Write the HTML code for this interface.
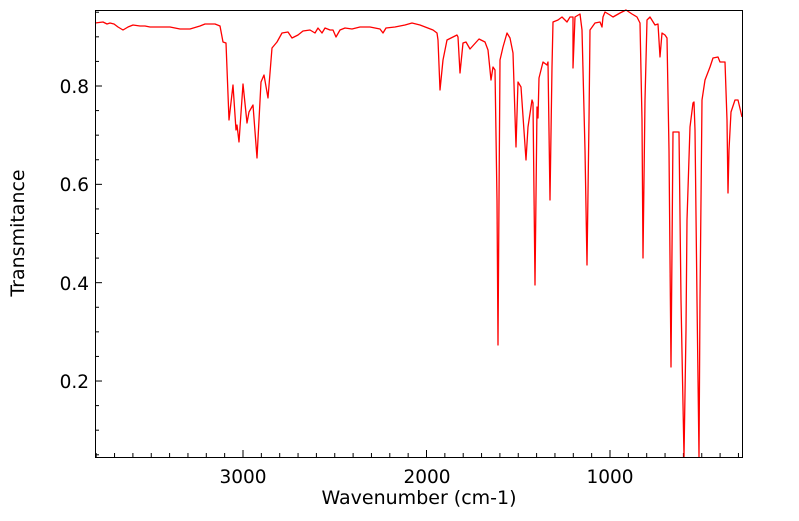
<!DOCTYPE html>
<html><head><meta charset="utf-8"><style>
body{margin:0;background:#fff;}
svg text{font-family:"DejaVu Sans","Liberation Sans",sans-serif;fill:#000;}
</style></head><body>
<svg width="799" height="516" viewBox="0 0 799 516" xmlns="http://www.w3.org/2000/svg">
<rect width="799" height="516" fill="#fff"/>
<g id="ticks" stroke="#000" stroke-width="1"></g>
<path fill="none" stroke="#ff0000" stroke-width="1.3" stroke-linejoin="round" d="
M95,23 L103,22 L107,24 L110,23 L114,24 L118,27 L123,30 L128,27 L133,25 L140,26 L145,26 L150,27 L160,27 L170,27 L180,29 L190,29 L200,26 L205,24 L215,24 L220,26 L223,42 L226,43 L229,120 L233,85 L236,130 L237,125 L239,142 L243,84 L247,123 L249,112 L253,105 L257,158 L261,82 L264,75 L268,98 L272,48 L277,42 L282,33 L288,32 L292,38 L298,35 L303,31 L310,30 L315,33 L318,28 L322,33 L325,28 L330,30 L333,30 L336,37 L340,30 L345,28 L352,29 L360,27 L370,27 L380,29 L383,33 L386,28 L395,27 L405,25 L412,23 L420,25 L433,30 L437,33 L438,40 L440,90 L443,60 L447,40 L457,35 L458,37 L460,73 L463,43 L466,42 L470,49 L479,39 L485,42 L488,50 L491,80 L493,67 L495,70 L497,200 L498,345 L499,200 L500,60 L503,47 L507,33 L510,38 L513,53 L516,147 L518,82 L521,87 L526,160 L528,127 L532,100 L533,103 L535,285 L537,107 L538,118 L539,78 L543,62 L547,65 L548,62 L550,200 L552,67 L553,22 L558,20 L562,17 L567,22 L570,17 L573,17 L573,68 L575,17 L580,14 L582,30 L585,150 L587,265 L589,120 L590,30 L595,23 L600,22 L602,27 L603,17 L605,12 L610,15 L613,17 L620,13 L626,10 L632,14 L637,17 L640,23 L642,120 L643,258 L645,100 L647,20 L650,17 L655,25 L658,24 L660,57 L662,33 L665,35 L667,38 L669,150 L671,367 L672,250 L673,132 L679,132 L681,300 L684,457 L686,330 L687,220 L690,127 L693,103 L694,102 L695,130 L697,300 L699,457 L700,300 L702,100 L705,80 L710,67 L713,58 L718,57 L720,62 L725,62 L727,120 L728,193 L729,150 L731,112 L735,100 L738,100 L742,117"/>
<rect x="95.5" y="10.5" width="647" height="447" fill="none" stroke="#000" stroke-width="1"/>
<g font-size="18.5" text-anchor="end">
<text x="89" y="93">0.8</text>
<text x="89" y="191">0.6</text>
<text x="89" y="290">0.4</text>
<text x="89" y="388">0.2</text>
</g>
<g font-size="18.5" text-anchor="middle">
<text x="243" y="483">3000</text>
<text x="427" y="483">2000</text>
<text x="610" y="483">1000</text>
<text x="419" y="504" font-size="19">Wavenumber (cm-1)</text>
<text transform="translate(24,233) rotate(-90)" font-size="19">Transmitance</text>
</g>
</svg>
<script>
var g=document.getElementById('ticks'),s='';
for(var w=300;w<=3800;w+=100){var x=243+(3000-w)*0.1835;if(x<95||x>742)continue;var L=(w%1000==0)?7:4;s+='<line x1="'+x+'" y1="457" x2="'+x+'" y2="'+(457-L)+'"/>';}
for(var i=1;i<=19;i++){var v=i*0.05;var y=86+(0.8-v)*491.7;if(y<10||y>457)continue;var L=(i%4==0)?7:4;s+='<line x1="95" y1="'+y+'" x2="'+(95+L)+'" y2="'+y+'"/>';}
g.innerHTML=s;
</script>
</body></html>
